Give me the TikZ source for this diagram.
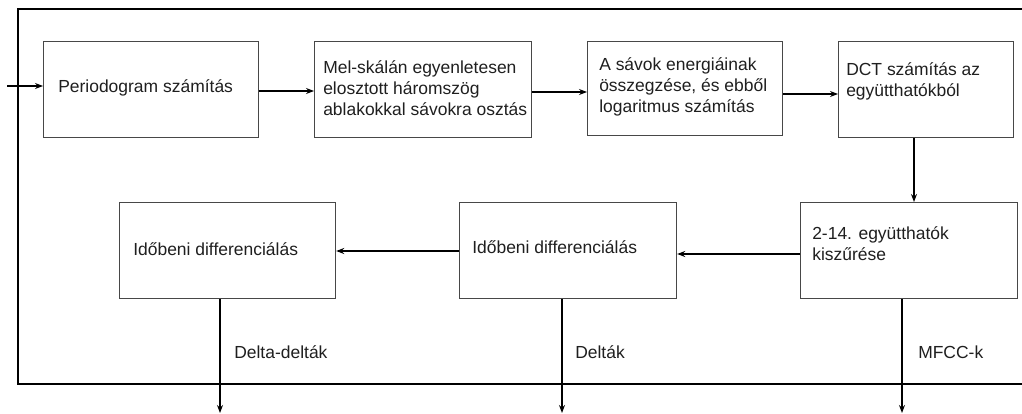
\documentclass[tikz,border=0pt]{standalone}
\usepackage{fontspec}
\setmainfont{Liberation Sans}
\usetikzlibrary{arrows.meta}
\begin{document}
\begin{tikzpicture}[x=0.75pt,y=-0.75pt,
  box/.style={draw=black!72, line width=0.9pt, rectangle, inner sep=0pt, anchor=north west, minimum height=72pt},
  txt/.style={anchor=base west, inner sep=0pt, align=left, font=\fontsize{13.1}{15.5}\selectfont, text=black!88},
  arr/.style={draw=black, line width=0.9pt, -{Stealth[length=6pt,width=4.5pt]}},
  frameline/.style={draw=black, line width=1.1pt}]
\useasboundingbox (0,0) rectangle (1022,414);
% outer frame
\coordinate (fa) at (1022,9);
\coordinate (fb) at (18,9);
\coordinate (fc) at (18,384);
\coordinate (fd) at (1022,384);
\draw[frameline] (fa) -- (fb) -- (fc) -- (fd);
% boxes
\node[box, minimum width=161.25pt] (b1) at (43,41) {};
\node[box, minimum width=162.75pt] (b2) at (314,41) {};
\node[box, minimum width=146.25pt, minimum height=70.5pt] (b3) at (587,41) {};
\node[box, minimum width=131.25pt] (b4) at (838,41) {};
\node[box, minimum width=162pt] (b5) at (119,202) {};
\node[box, minimum width=162.75pt] (b6) at (459,202) {};
\node[box, minimum width=162.75pt] (b7) at (800,202) {};
% texts (base anchor = baseline of last line)
\node[txt] (t1) at (58,92) {Periodogram számítás};
\node[txt] (t2) at (323,115) {Mel-skálán egyenletesen\\elosztott háromszög\\ablakokkal sávokra osztás};
\node[txt] (t3) at (599,112) {A sávok energiáinak\\összegzése, és ebből\\logaritmus számítás};
\node[txt] (t4) at (846,96) {DCT számítás az\\együtthatókból};
\node[txt] (t5) at (133,255) {Időbeni differenciálás};
\node[txt] (t6) at (472,253) {Időbeni differenciálás};
\node[txt] (t7) at (812,260) {2-14. együtthatók\\kiszűrése};
\node[txt] (l5) at (234,358) {Delta-delták};
\node[txt] (l6) at (575,358) {Delták};
\node[txt] (l7) at (918,358) {MFCC-k};
% helper coordinates
\coordinate (in) at (7,86);
\coordinate (y1) at (0,91);
\coordinate (y2) at (0,92);
\coordinate (y3) at (0,94);
\coordinate (x4) at (914,0);
\coordinate (y7) at (0,254);
\coordinate (y6) at (0,251);
\coordinate (o5) at (220,413);
\coordinate (o6) at (562,413);
\coordinate (o7) at (902,413);
% connectors
\draw[arr] (in) -- (b1.west |- in);
\draw[arr] (b1.east |- y1) -- (b2.west |- y1);
\draw[arr] (b2.east |- y2) -- (b3.west |- y2);
\draw[arr] (b3.east |- y3) -- (b4.west |- y3);
\draw[arr] (b4.south -| x4) -- (b7.north -| x4);
\draw[arr] (b7.west |- y7) -- (b6.east |- y7);
\draw[arr] (b6.west |- y6) -- (b5.east |- y6);
\draw[arr] (b5.south -| o5) -- (o5);
\draw[arr] (b6.south -| o6) -- (o6);
\draw[arr] (b7.south -| o7) -- (o7);
\end{tikzpicture}
\end{document}
